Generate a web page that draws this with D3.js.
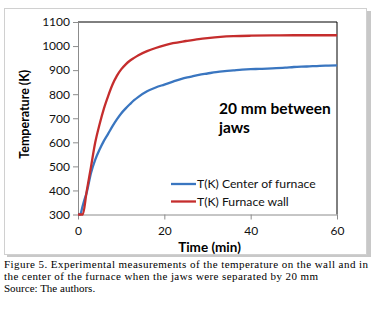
<!DOCTYPE html>
<html>
<head>
  <script src="https://cdn.jsdelivr.net/npm/d3@7/dist/d3.min.js"></script>
  <style>
    body { margin: 0; background: #fff; }
    text { font-family: Lato, sans-serif; }
  </style>
</head>
<body>
  <svg width="381" height="316" id="mainsvg"></svg>
  <script>
    // data
    const wallTime = [0, 1.1, 2, 3, 4, 5, 6, 7, 8, 9, 10, 11, 12, 13, 14, 16, 18, 20, 22, 25, 28, 30, 33, 36, 40, 45, 50, 55, 60];
    const wallTemp = [300, 300, 395, 497, 600, 675, 740, 793, 840, 876, 903, 923, 939, 951, 962, 979, 992, 1003, 1012, 1021, 1029, 1033, 1038, 1041, 1043, 1044, 1045, 1045, 1045];
    const centerTime = [0, 0.5, 1, 1.5, 2, 3, 4, 5, 6, 7, 8, 9, 10, 11, 12, 13, 14, 16, 18, 20, 22, 24, 26, 28, 30, 32, 34, 36, 38, 40, 42, 45, 48, 50, 53, 56, 58, 60];
    const centerTemp = [300, 300, 330, 362, 390, 472, 528, 570, 606, 636, 667, 695, 720, 740, 758, 775, 789, 812, 828, 840, 852, 864, 872, 880, 886, 892, 896, 899, 902, 904, 905, 907, 910, 913, 915, 918, 919, 920];
    const seriesNames = ['T(K) Center of furnace', 'T(K) Furnace wall'];
    const xTicks = [0, 20, 40, 60];
    const yTicks = [300, 400, 500, 600, 700, 800, 900, 1000, 1100];
    const captionLines = [
      'Figure 5. Experimental measurements of the temperature on the wall and in',
      'the center of the furnace when the jaws were separated by 20 mm',
      'Source: The authors.'
    ];
    const captionWidths = [364, 314, null];

    const svg = d3.select('#mainsvg');
    const margin = { top: 22, left: 78, right: 337, bottom: 214.5 };

    // chart frame with shadow
    svg.append('rect').attr('x', 7).attr('y', 11).attr('width', 364).attr('height', 246).attr('fill', '#c8c8c8');
    svg.append('rect').attr('x', 4.5).attr('y', 8.5).attr('width', 362).attr('height', 246)
      .attr('fill', '#fff').attr('stroke', '#d0d0d0');

    const xScale = d3.scaleLinear().domain([0, 60]).range([margin.left, margin.right]);
    const yScale = d3.scaleLinear().domain([300, 1100]).range([margin.bottom, margin.top]);

    // plot border (top and right black)
    svg.append('path')
      .attr('d', `M${margin.left},${margin.top}H${margin.right}V${margin.bottom}`)
      .attr('fill', 'none').attr('stroke', '#000').attr('stroke-width', 1);

    const xAxis = svg.append('g').attr('transform', `translate(0,${margin.bottom})`)
      .call(d3.axisBottom(xScale).tickValues(xTicks).tickFormat(d3.format('d')).tickSize(5).tickSizeOuter(0));
    const yAxis = svg.append('g').attr('transform', `translate(${margin.left},0)`)
      .call(d3.axisLeft(yScale).tickValues(yTicks).tickFormat(d3.format('d')).tickSize(5).tickSizeOuter(0));
    [xAxis, yAxis].forEach(a => {
      a.selectAll('path, line').attr('stroke', '#8c8c8c');
      a.selectAll('text').attr('fill', '#111').style('font-size', '12px').style('font-family', 'Lato');
    });
    xAxis.selectAll('text').attr('dy', '1.05em');
    yAxis.selectAll('text').attr('x', -8);

    const line = d3.line().x(d => xScale(d[0])).y(d => yScale(d[1])).curve(d3.curveMonotoneX);
    const series = [
      { name: seriesNames[0], color: '#3a76c0', pts: d3.zip(centerTime, centerTemp) },
      { name: seriesNames[1], color: '#c52d2d', pts: d3.zip(wallTime, wallTemp) }
    ];
    svg.selectAll('.series').data(series).join('path')
      .attr('class', 'series')
      .attr('d', d => line(d.pts))
      .attr('fill', 'none').attr('stroke', d => d.color).attr('stroke-width', 2.3);

    // legend
    const lg = svg.selectAll('.lg').data(series).join('g').attr('class', 'lg')
      .attr('transform', (d, i) => `translate(171,${184 + i * 17.5})`);
    lg.append('line').attr('x1', 0).attr('x2', 25).attr('stroke', d => d.color).attr('stroke-width', 2.3);
    lg.append('text').attr('x', 26).attr('y', 4).style('font-size', '12.2px').attr('fill', '#111').text(d => d.name);

    // annotation
    svg.append('text').attr('x', 219).attr('y', 113.5).style('font-size', '15.5px').style('font-weight', 'bold')
      .attr('fill', '#000').text('20 mm between');
    svg.append('text').attr('x', 219).attr('y', 133).style('font-size', '15.5px').style('font-weight', 'bold')
      .attr('fill', '#000').text('jaws');

    // axis titles
    svg.append('text').attr('transform', `translate(29,${(margin.top + margin.bottom) / 2 - 4}) rotate(-90)`)
      .attr('text-anchor', 'middle').style('font-size', '12.5px').style('font-weight', 'bold').text('Temperature (K)');
    svg.append('text').attr('x', 209.5).attr('y', 252)
      .attr('text-anchor', 'middle').style('font-size', '13.5px').style('font-weight', 'bold').text('Time (min)');

    // caption
    svg.selectAll('.cap').data(captionLines).join('text').attr('class', 'cap')
      .attr('x', 4).attr('y', (d, i) => 267.5 + i * 12.2)
      .attr('textLength', (d, i) => captionWidths[i]).attr('lengthAdjust', 'spacing')
      .style('font-family', '"Liberation Serif", "Times New Roman", serif').style('font-size', '11px')
      .attr('fill', '#000').text(d => d);
  </script>
</body>
</html>
